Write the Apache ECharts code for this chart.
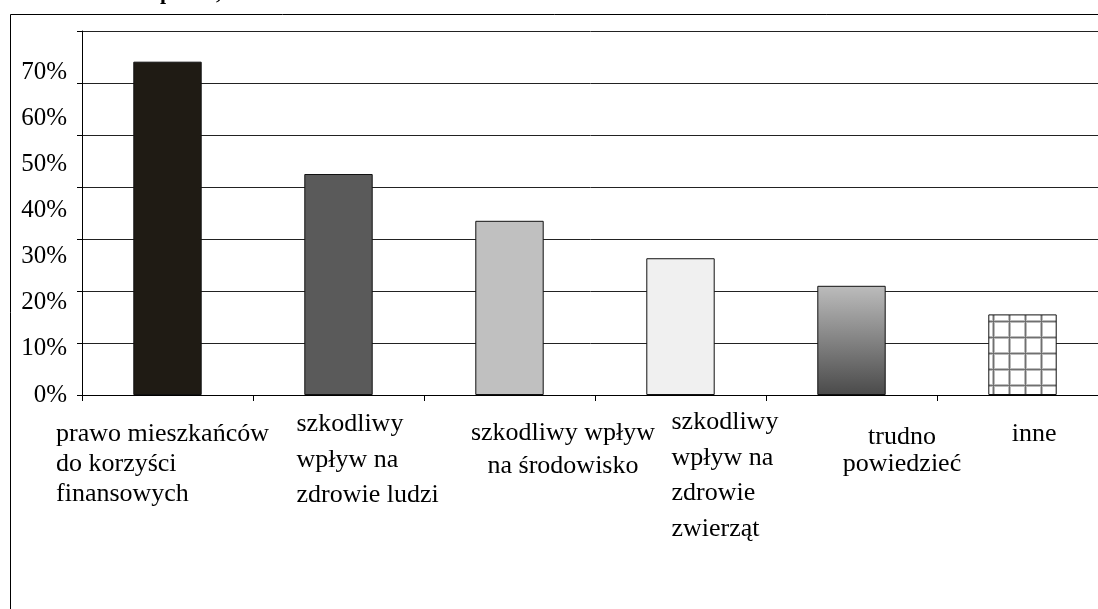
<!DOCTYPE html>
<html>
<head>
<meta charset="utf-8">
<script src="https://cdn.jsdelivr.net/npm/echarts@6/dist/echarts.min.js"></script>
<style>
html, body { margin: 0; padding: 0; background: #fff; }
#chart { width: 1098px; height: 609px; }
</style>
</head>
<body>
<div id="chart"></div>
<script>
// dane
const categories = [
    'prawo mieszkańców\ndo korzyści\nfinansowych',
    'szkodliwy\nwpływ na\nzdrowie ludzi',
    'szkodliwy wpływ\nna środowisko',
    'szkodliwy\nwpływ na\nzdrowie\nzwierząt',
    'trudno\npowiedzieć',
    'inne'
]
const values = [64.1, 42.5, 33.5, 26.3, 21.0, 15.5]
const yTickLabels = ['0%', '10%', '20%', '30%', '40%', '50%', '60%', '70%']

const FONT = 'Liberation Serif'

// ulozenie podpisow osi X (jak w oryginale, kazdy troche inaczej)
const labelLayout = [
    { align: 'left', width: 224, dx: -111.5, lh: 30, top: 20.5 },
    { align: 'left', width: 150, dx: -42, lh: 35.5, top: 7.75 },
    { align: 'center', dx: 53.5, lh: 32.5, top: 18 },
    { align: 'left', width: 115, dx: -9, lh: 35.7, top: 5.2 },
    { align: 'center', dx: 50.5, lh: 27, top: 24.5 },
    { align: 'center', dx: 11.7, lh: 30, top: 20 }
]

function labelPadding(l) {
    let diff
    if (l.align === 'left') {
        diff = 2 * l.dx + l.width
    } else {
        diff = 2 * l.dx
    }
    return diff >= 0 ? [l.top, 0, 0, diff] : [l.top, -diff, 0, 0]
}

const rich = {}
labelLayout.forEach(function (l, i) {
    rich['c' + i] = {
        fontFamily: FONT,
        fontSize: 26,
        color: '#000',
        lineHeight: l.lh,
        align: l.align
    }
    if (l.width) rich['c' + i].width = l.width
})

// wzor kratki dla ostatniego slupka
function gridPattern() {
    const c = document.createElement('canvas')
    c.width = 16
    c.height = 16
    const ctx = c.getContext('2d')
    ctx.fillStyle = '#fff'
    ctx.fillRect(0, 0, 16, 16)
    ctx.fillStyle = '#bbb'
    ctx.fillRect(0, 0, 3, 16)
    ctx.fillRect(0, 0, 16, 3)
    ctx.fillStyle = '#707070'
    ctx.fillRect(1, 0, 1, 16)
    ctx.fillRect(0, 1, 16, 1)
    return c
}

const barColors = [
    '#1f1b14',
    '#5a5a5a',
    '#c0c0c0',
    '#f0f0f0',
    new echarts.graphic.LinearGradient(0, 0, 0, 1, [
        { offset: 0, color: '#bcbcbc' },
        { offset: 1, color: '#4a4a4a' }
    ]),
    { image: gridPattern(), repeat: 'repeat' }
]

const myChart = echarts.init(document.getElementById('chart'))

const options = {
    backgroundColor: '#fff',
    animation: false,
    graphic: [
        {
            type: 'rect',
            shape: { x: 10.5, y: 14.5, width: 1100, height: 600 },
            style: { fill: 'none', stroke: '#000', lineWidth: 1 }
        },
        {
            type: 'text',
            x: 160, y: 4,
            style: { text: 'p', font: 'bold 22px "Liberation Serif"', fill: '#000', verticalAlign: 'bottom' }
        },
        {
            type: 'text',
            x: 216, y: 4,
            style: { text: ',', font: 'bold 22px "Liberation Serif"', fill: '#000', verticalAlign: 'bottom' }
        }
    ],
    grid: {
        left: 82,
        top: 31,
        width: 1026,
        height: 364,
        outerBoundsMode: 'none'
    },
    xAxis: {
        type: 'category',
        boundaryGap: true,
        data: categories.map(function (c, i) {
            return { value: c, textStyle: { padding: labelPadding(labelLayout[i]) } }
        }),
        axisLine: { lineStyle: { color: '#000', width: 1 } },
        axisTick: { show: true, length: 6, lineStyle: { color: '#000' } },
        axisLabel: {
            interval: 0,
            margin: 4,
            fontFamily: FONT,
            fontSize: 26,
            color: '#000',
            formatter: function (value, index) {
                return value.split('\n').map(function (s) {
                    return '{c' + index + '|' + s + '}'
                }).join('\n')
            },
            rich: rich
        }
    },
    yAxis: [{
        type: 'value',
        min: 0,
        max: 70,
        interval: 10,
        position: 'left',
        axisLine: { show: true, lineStyle: { color: '#000', width: 1 } },
        axisTick: { show: true, length: 5, lineStyle: { color: '#000' } },
        axisLabel: { show: false },
        splitLine: { lineStyle: { color: '#222', width: 1 } }
    }, {
        // same podpisy - w oryginale sa przesuniete wzgledem linii siatki
        type: 'value',
        min: 0,
        max: 78.9,
        interval: 10,
        position: 'left',
        axisLine: { show: false },
        axisTick: { show: false },
        splitLine: { show: false },
        axisLabel: {
            margin: 15,
            padding: [4, 0, 0, 0],
            fontFamily: FONT,
            fontSize: 25,
            color: '#000',
            showMaxLabel: false,
            formatter: function (v) {
                const i = Math.round(v / 10)
                return (Math.abs(v - i * 10) < 0.01 && yTickLabels[i]) ? yTickLabels[i] : ''
            }
        }
    }],
    series: [{
        type: 'bar',
        yAxisIndex: 0,
        barWidth: '40%',
        data: values.map(function (v, i) {
            return {
                value: v,
                itemStyle: { color: barColors[i] }
            }
        }),
        itemStyle: {
            borderColor: '#111',
            borderWidth: 1
        }
    }]
}

myChart.setOption(options)
</script>
</body>
</html>
